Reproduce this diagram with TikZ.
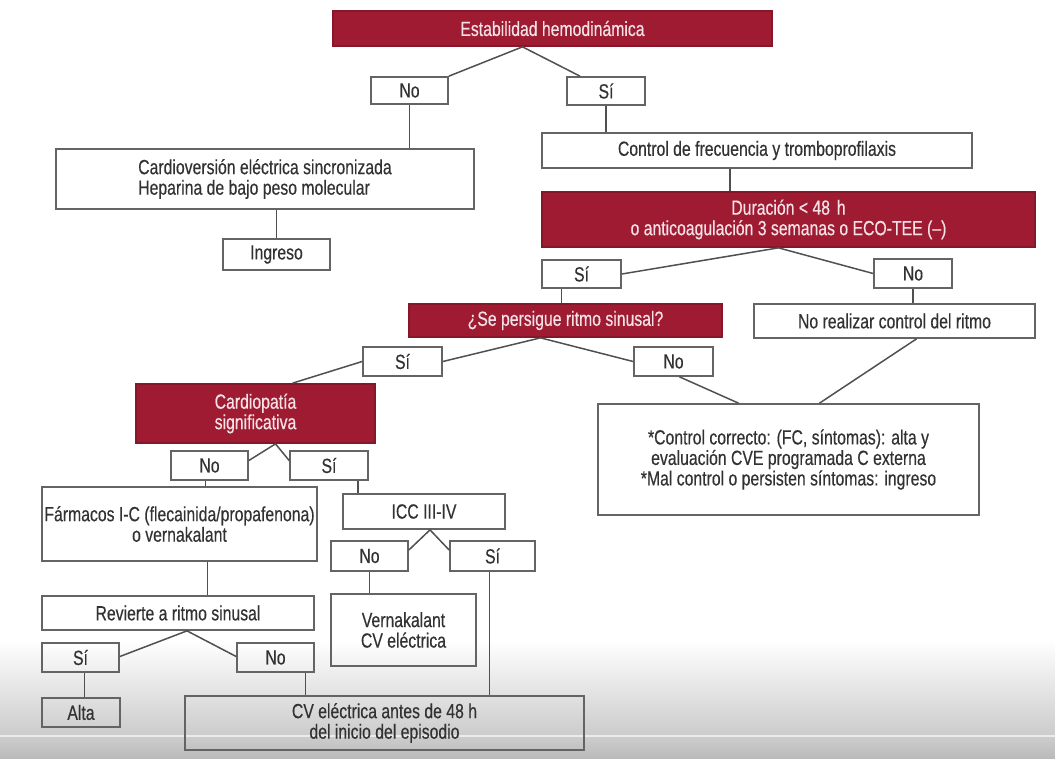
\documentclass[tikz,border=0pt]{standalone}
\usepackage{fontspec}
\setmainfont[FakeStretch=0.77,FakeBold=0.4]{Liberation Sans}
\usetikzlibrary{calc}
\definecolor{hdred}{RGB}{158,27,50}
\definecolor{txt}{RGB}{50,50,50}
\definecolor{edge}{RGB}{100,100,100}
\definecolor{lighttxt}{RGB}{245,226,231}
\tikzset{
  base/.style={draw=edge, line width=1.7pt, inner sep=0pt, font=\fontsize{20.5}{20.5}\selectfont, text=txt, align=center},
  wbox/.style={base},
  lbox/.style={base, align=left},
  rbox/.style={base, fill=hdred, draw=hdred!85!black, text=lighttxt},
  conn/.style={draw=edge!80!black, line width=1.5pt},
}
\newcommand\bx[7]{\node[#6, minimum width={(#4-#2)*1pt}, minimum height={(#5-#3)*1pt}] (#1) at ({(#2+#4)/2},{(#3+#5)/2}) {#7};}
\begin{document}
\begin{tikzpicture}[x=1pt,y=-1pt]
\useasboundingbox (0,0) rectangle (1055,758);
% bottom video overlay gradient
\shade[top color=white, bottom color=black!20] (0,640) rectangle (1055,735);
\fill[black!8] (0,735) rectangle (1055,737);
\shade[top color=black!20, bottom color=black!27] (0,737) rectangle (1055,758);

\bx{est}{333}{11}{772}{46}{rbox}{Estabilidad hemodinámica}
\bx{no1}{371}{77}{448}{104}{wbox}{No}
\bx{si1}{567}{77}{645}{105}{wbox}{Sí}
\bx{cv}{56}{149}{474}{209}{lbox}{Cardioversión eléctrica sincronizada\\Heparina de bajo peso molecular}
\bx{ing}{223}{239}{330}{270}{wbox}{Ingreso}
\bx{ctrl}{542}{133}{972}{168}{wbox}{Control de frecuencia y tromboprofilaxis}
\bx{dur}{542}{192}{1035}{247}{rbox}{Duración < 48\,\,h\\o anticoagulación 3 semanas o ECO-TEE (–)}
\bx{si2}{542}{260}{621}{288}{wbox}{Sí}
\bx{no2}{874}{259}{952}{288}{wbox}{No}
\bx{pers}{409}{304}{722}{337}{rbox}{¿Se persigue ritmo sinusal?}
\bx{norel}{754}{304}{1035}{338}{wbox}{No realizar control del ritmo}
\bx{si3}{363}{347}{442}{376}{wbox}{Sí}
\bx{no3}{634}{347}{713}{376}{wbox}{No}
\bx{card}{136}{384}{375}{443}{rbox}{Cardiopatía\\significativa}
\bx{no4}{171}{451}{248}{480}{wbox}{No}
\bx{si4}{290}{451}{368}{480}{wbox}{Sí}
\bx{ctrlc}{598}{404}{979}{515}{wbox}{*Control correcto: (FC, síntomas): alta y\\evaluación CVE programada C externa\\*Mal control o persisten síntomas: ingreso}
\bx{farm}{42}{487}{317}{561}{wbox}{Fármacos I-C (flecainida/propafenona)\\o vernakalant}
\bx{icc}{343}{494}{505}{529}{wbox}{ICC III-IV}
\bx{no5}{331}{541}{408}{571}{wbox}{No}
\bx{si5}{450}{541}{535}{571}{wbox}{Sí}
\bx{vern}{331}{594}{476}{666}{wbox}{Vernakalant\\CV eléctrica}
\bx{rev}{42}{596}{314}{630}{wbox}{Revierte a ritmo sinusal}
\bx{si6}{42}{643}{119}{672}{wbox}{Sí}
\bx{no6}{237}{643}{314}{672}{wbox}{No}
\bx{alta}{42}{698}{120}{727}{wbox}{Alta}
\bx{cvel}{185}{696}{584}{750}{wbox}{CV eléctrica antes de 48 h\\del inicio del episodio}

% connectors
\draw[conn] (no1.north east) -- ($(est.south)+(-30,0)$) -- ($(si1.north)+(-26,0)$);
\draw[conn] (no1.south) -- (no1.south |- cv.north);
\draw[conn] (ing.north) -- (ing.north |- cv.south);
\draw[conn] (si1.south) -- (si1.south |- ctrl.north);
\draw[conn] ($(ctrl.south)+(-27,0)$) coordinate (c1) -- (c1 |- dur.north);
\draw[conn] (si2.east) -- ($(dur.south)+(-10,0)$) -- (no2.west);
\draw[conn] ($(si2.south)+(-20,0)$) coordinate (c2) -- (c2 |- pers.north);
\draw[conn] (no2.south) -- (no2.south |- norel.north);
\draw[conn] (si3.east) -- ($(pers.south)+(-25,0)$) -- (no3.west);
\draw[conn] (si3.west) -- ($(card.north)+(37,0)$);
\draw[conn] ($(no3.south)+(6,0)$) -- ($(ctrlc.north)+(-50,0)$);
\draw[conn] ($(norel.south)+(22,0)$) -- ($(ctrlc.north)+(31,0)$);
\draw[conn] ($(no4.east)+(0,-5)$) -- ($(card.south)+(20,0)$) -- ($(si4.west)+(0,-5)$);
\draw[conn] ($(no4.south)+(-4,0)$) coordinate (c3) -- (c3 |- farm.north);
\draw[conn] ($(si4.south)+(29,0)$) coordinate (c4) -- (c4 |- icc.north);
\draw[conn] ($(farm.south)+(28,0)$) coordinate (c5) -- (c5 |- rev.north);
\draw[conn] ($(no5.east)+(0,-6)$) -- ($(icc.south)+(6,0)$) -- ($(si5.west)+(0,-6)$);
\draw[conn] (no5.south) -- (no5.south |- vern.north);
\draw[conn] ($(si5.south)+(-3,0)$) coordinate (c6) -- (c6 |- cvel.north);
\draw[conn] ($(si6.east)+(0,-1)$) -- ($(rev.south)+(9,0)$) -- ($(no6.west)+(0,-1)$);
\draw[conn] ($(si6.south)+(4,0)$) coordinate (c7) -- (c7 |- alta.north);
\draw[conn] ($(no6.south)+(30,0)$) coordinate (c8) -- (c8 |- cvel.north);
\end{tikzpicture}
\end{document}
